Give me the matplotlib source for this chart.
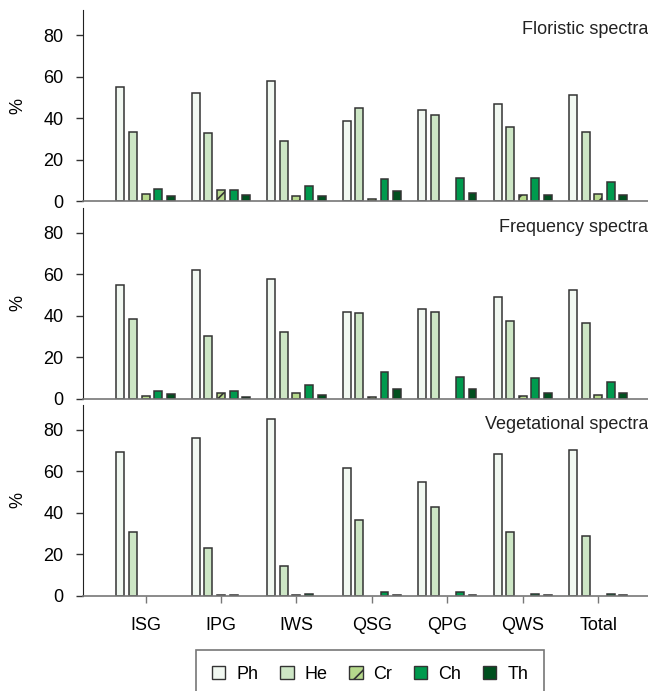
import numpy as np
import matplotlib
matplotlib.use("Agg")
import matplotlib.pyplot as plt
from matplotlib.patches import Patch

plt.rcParams['font.family'] = ['Liberation Sans', 'DejaVu Sans']
plt.rcParams['hatch.linewidth'] = 1.2

sites = ['ISG', 'IPG', 'IWS', 'QSG', 'QPG', 'QWS', 'Total']
forms = ['Ph', 'He', 'Cr', 'Ch', 'Th']
colors = ['#f1f8f1', '#cde6c5', '#b6d98c', '#009a4e', '#00501f']
hatches = ['', '', '//', '', '']

# percentages per life form, one list per site order above
floristic = {
    'Ph': [55, 52, 58, 38.5, 44, 47, 51],
    'He': [33.5, 33, 29, 45, 41.5, 35.5, 33.5],
    'Cr': [3.5, 5.5, 2.5, 1, 0, 3, 3.5],
    'Ch': [6, 5.5, 7.5, 10.5, 11, 11, 9],
    'Th': [2.5, 3, 2.5, 5, 4, 3, 3],
}
frequency = {
    'Ph': [55, 62, 57.7, 41.7, 43.5, 49, 52.5],
    'He': [38.5, 30.5, 32.5, 41.2, 41.7, 37.7, 36.7],
    'Cr': [1.5, 3, 2.7, 0.8, 0, 1.3, 1.7],
    'Ch': [3.8, 4, 6.8, 12.8, 10.7, 10.2, 8],
    'Th': [2.5, 1, 1.7, 4.9, 4.6, 3, 2.8],
}
vegetational = {
    'Ph': [69.3, 76.3, 85.3, 61.5, 55, 68.5, 70.5],
    'He': [30.6, 23, 14.5, 36.5, 42.7, 30.8, 28.8],
    'Cr': [0, 0.5, 0.5, 0, 0, 0, 0],
    'Ch': [0, 0.5, 1.1, 2, 1.8, 1.1, 0.9],
    'Th': [0, 0, 0, 0.6, 0.6, 0.6, 0.5],
}
panels = [('Floristic spectra', floristic),
          ('Frequency spectra', frequency),
          ('Vegetational spectra', vegetational)]

fig = plt.figure(figsize=(6.48, 6.91), dpi=100)

x = np.arange(len(sites))
width = 0.105
step = 0.167
bottoms = [0.709, 0.4226, 0.1375]

for i, (title, data) in enumerate(panels):
    ax = fig.add_axes([0.128, bottoms[i], 0.872, 0.2764])
    for j, f in enumerate(forms):
        vals = np.array(data[f], dtype=float)
        keep = vals > 0  # empty classes get no bar at all
        ax.bar(x[keep] + (j - 2) * step, vals[keep], width, color=colors[j],
               edgecolor='#333333', linewidth=1.1, hatch=hatches[j])
    ax.set_xlim(-0.83, 6.66)
    ax.set_ylim(0, 92)
    ax.set_yticks([0, 20, 40, 60, 80])
    ax.tick_params(axis='y', labelsize=13, length=5, width=1, color='#333333',
                   pad=9)
    ax.set_ylabel('%', fontsize=13, labelpad=12)
    ax.spines['top'].set_visible(False)
    ax.spines['right'].set_visible(False)
    ax.spines['left'].set_color('#222222')
    ax.spines['bottom'].set_color('#777777')
    ax.spines['bottom'].set_linewidth(1.2)
    ax.text(1.0, 0.9, title, transform=ax.transAxes, ha='right', va='center',
            fontsize=13, color='#222222')
    ax.set_xticks(x)
    if i == 2:
        ax.set_xticklabels(sites, fontsize=13)
        ax.tick_params(axis='x', length=5, width=1, color='#777777', pad=10)
    else:
        ax.tick_params(axis='x', length=0, labelbottom=False)

handles = [Patch(facecolor=colors[j], edgecolor='#333333', hatch=hatches[j],
                 label=f) for j, f in enumerate(forms)]
leg = fig.legend(handles=handles, loc='upper center', ncol=5,
                 bbox_to_anchor=(0.571, 0.073), fontsize=13, frameon=True,
                 fancybox=False, edgecolor='#555555', handlelength=0.75,
                 handleheight=0.75, columnspacing=1.2, handletextpad=0.6,
                 borderpad=0.9)
leg.get_frame().set_linewidth(1.2)

fig.savefig('out.png', dpi=100)
